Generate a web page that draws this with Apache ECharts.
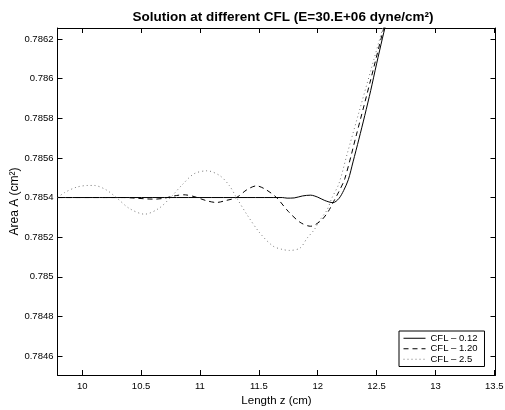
<!DOCTYPE html>
<html><head><meta charset="utf-8">
<script src="https://cdn.jsdelivr.net/npm/echarts@6/dist/echarts.min.js"></script>
<style>html,body{margin:0;padding:0;background:#fff}#c{width:505px;height:410px}</style>
</head><body><div id="c"></div>
<script>
// ---- data ----
const xTicks = [10, 10.5, 11, 11.5, 12, 12.5, 13, 13.5];
const yTicks = [0.7846, 0.7848, 0.785, 0.7852, 0.7854, 0.7856, 0.7858, 0.786, 0.7862];
const seriesNames = ['CFL \u2013 0.12', 'CFL \u2013 1.20', 'CFL \u2013 2.5'];

const zSolid = [9.79, 10.2, 10.6, 11.0, 11.4, 11.7, 11.74, 11.8, 11.87, 11.94, 12.0, 12.06, 12.13, 12.18, 12.22, 12.26, 12.3, 12.35, 12.4, 12.45, 12.5, 12.55, 12.6, 12.65];
const aSolid = [0.7854, 0.7854, 0.7854, 0.7854, 0.7854, 0.7854, 0.785397, 0.785398, 0.785408, 0.785412, 0.785402, 0.785385, 0.785374, 0.785395, 0.785435, 0.78549, 0.78558, 0.785695, 0.785815, 0.78594, 0.786075, 0.786205, 0.78633, 0.78646];

const zDashed = [9.79, 10.0, 10.2, 10.35, 10.45, 10.55, 10.62, 10.7, 10.78, 10.86, 10.95, 11.05, 11.14, 11.22, 11.31, 11.4, 11.48, 11.56, 11.65, 11.75, 11.85, 11.94, 12.03, 12.09, 12.135, 12.18, 12.23, 12.33, 12.45, 12.55, 12.65];
const aDashed = [0.7854, 0.7854, 0.7854, 0.7854, 0.785397, 0.785393, 0.785392, 0.785397, 0.785408, 0.785414, 0.785405, 0.785385, 0.785375, 0.785385, 0.7854, 0.78544, 0.785459, 0.78544, 0.7854, 0.78533, 0.785275, 0.785255, 0.785285, 0.78533, 0.78538, 0.78543, 0.785495, 0.78572, 0.785995, 0.78623, 0.78646];

const zDotted = [9.79, 9.85, 9.95, 10.05, 10.1, 10.2, 10.29, 10.4, 10.53, 10.65, 10.75, 10.85, 10.95, 11.06, 11.17, 11.25, 11.31, 11.4, 11.51, 11.62, 11.7, 11.76, 11.85, 11.91, 11.97, 12.02, 12.08, 12.12, 12.18, 12.25, 12.35, 12.45, 12.55, 12.65];
const aDotted = [0.7854, 0.785425, 0.785452, 0.785461, 0.785461, 0.78544, 0.7854, 0.785345, 0.785316, 0.785345, 0.7854, 0.785465, 0.78552, 0.785535, 0.78551, 0.78546, 0.7854, 0.785313, 0.78522, 0.785155, 0.785138, 0.785133, 0.785145, 0.785195, 0.785237, 0.785287, 0.785338, 0.785397, 0.78547, 0.78562, 0.78583, 0.78604, 0.78625, 0.78646];

const pairs = (xs, ys) => xs.map((x, i) => [x, ys[i]]);
const FONT = 'Liberation Sans, Arial, Helvetica, sans-serif';

const chart = echarts.init(document.getElementById('c'), null, {renderer: 'canvas'});
const tick = vals => ({show: true, inside: true, length: 5, lineStyle: {color: '#000'}, customValues: vals});
const axisCommon = {
  type: 'value',
  axisLine: {show: true, onZero: false, lineStyle: {color: '#000', width: 1}},
  splitLine: {show: false},
};
chart.setOption({
  animation: false,
  backgroundColor: '#fff',
  title: {
    text: 'Solution at different CFL (E=30.E+06 dyne/cm\u00b2)',
    left: 278, top: 5, textAlign: 'center',
    textStyle: {fontFamily: FONT, fontSize: 13.5, fontWeight: 'bold', color: '#000'}
  },
  grid: {left: 57.5, right: 9.5, top: 28, bottom: 35, show: false, outerBoundsMode: 'none', containLabel: false},
  legend: {
    orient: 'vertical', left: 399, top: 331,
    data: seriesNames,
    itemWidth: 22, itemHeight: 8, itemGap: 0,
    padding: [2, 7, 2, 4],
    borderColor: '#000', borderWidth: 1, backgroundColor: '#fff',
    itemStyle: {opacity: 0},
    lineStyle: {width: 1},
    textStyle: {fontFamily: FONT, fontSize: 9.5, color: '#000', lineHeight: 10.5}
  },
  xAxis: [
    Object.assign({}, axisCommon, {
      position: 'bottom', min: 9.79, max: 13.51,
      axisTick: tick(xTicks),
      axisLabel: {customValues: xTicks, color: '#000', fontFamily: FONT, fontSize: 9.5, margin: 6, formatter: v => String(v)},
      name: 'Length z (cm)', nameLocation: 'middle', nameGap: 20, nameMoveOverlap: false,
      nameTextStyle: {fontFamily: FONT, fontSize: 11.5, color: '#000'}
    }),
    Object.assign({}, axisCommon, {
      position: 'top', min: 9.79, max: 13.51,
      axisTick: tick(xTicks),
      axisLabel: {show: false}
    })
  ],
  yAxis: [
    Object.assign({}, axisCommon, {
      position: 'left', min: 0.784504, max: 0.786256,
      axisTick: tick(yTicks),
      axisLabel: {customValues: yTicks, color: '#000', fontFamily: FONT, fontSize: 9.5, margin: 4, formatter: v => String(+(+v).toFixed(4))},
      name: 'Area A (cm\u00b2)', nameLocation: 'middle', nameGap: 37, nameMoveOverlap: false,
      nameTextStyle: {fontFamily: FONT, fontSize: 12, color: '#000'}
    }),
    Object.assign({}, axisCommon, {
      position: 'right', min: 0.784504, max: 0.786256,
      axisTick: tick(yTicks),
      axisLabel: {show: false}
    })
  ],
  series: [
    {name: seriesNames[0], type: 'line', data: pairs(zSolid, aSolid), symbol: 'none', smooth: 0.3, clip: true,
     lineStyle: {color: '#000', width: 1, type: 'solid'}, itemStyle: {color: '#000'}},
    {name: seriesNames[1], type: 'line', data: pairs(zDashed, aDashed), symbol: 'none', smooth: 0.3, clip: true,
     lineStyle: {color: '#000', width: 1, type: [5, 4]}, itemStyle: {color: '#000'}},
    {name: seriesNames[2], type: 'line', data: pairs(zDotted, aDotted), symbol: 'none', smooth: 0.3, clip: true,
     lineStyle: {color: '#777', width: 1, type: [1, 3]}, itemStyle: {color: '#777'}}
  ]
});
</script>
</body></html>
